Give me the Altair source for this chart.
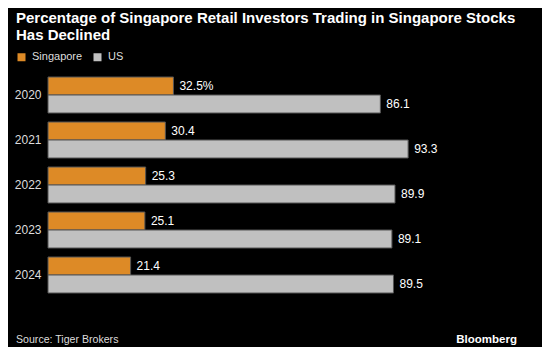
import altair as alt
import pandas as pd

years = ["2020", "2021", "2022", "2023", "2024"]
singapore = [32.5, 30.4, 25.3, 25.1, 21.4]
us = [86.1, 93.3, 89.9, 89.1, 89.5]
series_names = ["Singapore", "US"]
colors = ["#dd8a26", "#c0c0c0"]

rows = []
for i, y in enumerate(years):
    sg_label = f"{singapore[i]}%" if i == 0 else f"{singapore[i]}"
    rows.append({"year": y, "series": "Singapore", "value": singapore[i], "label": sg_label})
    rows.append({"year": y, "series": "US", "value": us[i], "label": f"{us[i]}"})
df = pd.DataFrame(rows)

FONT = "Liberation Sans"

y_enc = alt.Y("year:N", sort=years, title=None,
              scale=alt.Scale(paddingInner=0.2, paddingOuter=0.1),
              axis=alt.Axis(ticks=False, domain=False, labelPadding=7, labelFontSize=12,
                            labelColor="#dddddd", labelFont=FONT))
yoff = alt.YOffset("series:N", sort=series_names, scale=alt.Scale(paddingInner=0, paddingOuter=0))
x_enc = alt.X("value:Q", scale=alt.Scale(domain=[0, 100]), axis=None)

base = alt.Chart(df)

bars = base.mark_bar(stroke="#555555", strokeWidth=1).encode(
    x=x_enc, y=y_enc, yOffset=yoff,
    color=alt.Color("series:N", sort=series_names,
                    scale=alt.Scale(domain=series_names, range=colors),
                    legend=alt.Legend(title=None, orient="none", legendX=-32, legendY=-21,
                                      direction="horizontal", symbolType="square",
                                      symbolSize=64, symbolStrokeWidth=0,
                                      labelFontSize=11, labelColor="#dddddd", labelFont=FONT,
                                      labelOffset=5, columnPadding=9)),
)

labels = base.mark_text(align="left", baseline="middle", dx=6, fontSize=12,
                        color="#ffffff", font=FONT).encode(
    x=x_enc, y=alt.Y("year:N", sort=years), yOffset=yoff, text="label:N")

title_lines = ["Percentage of Singapore Retail Investors Trading in Singapore Stocks",
               "Has Declined"]

def text_at(t, x, y, **kw):
    return alt.Chart(pd.DataFrame({"t": [t]})).mark_text(font=FONT, **kw).encode(
        x=alt.value(x), y=alt.value(y), text="t:N")

title1 = text_at(title_lines[0], -32, -49.5, align="left", baseline="alphabetic", fontSize=15,
                 fontWeight="bold", color="#ffffff")
title2 = text_at(title_lines[1], -32, -32.5, align="left", baseline="alphabetic", fontSize=15,
                 fontWeight="bold", color="#ffffff")
source = text_at("Source: Tiger Brokers", -32, 270, align="left", baseline="alphabetic",
                 fontSize=10.6, color="#dddddd")
brand = text_at("Bloomberg", 469, 270, align="right", baseline="alphabetic",
                fontSize=11.5, fontWeight="bold", color="#ffffff")

chart = alt.layer(bars, labels, title1, title2, source, brand).properties(
    width=386, height=225, background="#000000",
    padding={"left": 40, "top": 64.5, "right": 108, "bottom": 49.5},
    autosize=alt.AutoSizeParams(type="none"),
).configure_view(stroke=None)

chart.save("out.html", embed_options={"renderer": "svg", "actions": False})
